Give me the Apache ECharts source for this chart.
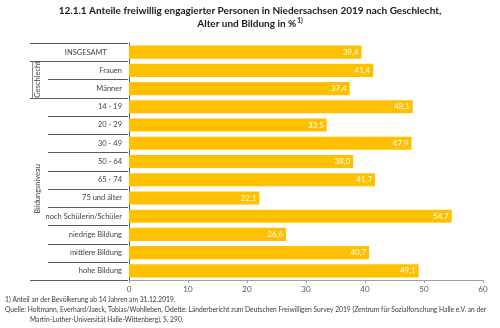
<!DOCTYPE html>
<html>
<head>
<meta charset="utf-8">
<script src="https://cdn.jsdelivr.net/npm/echarts@6/dist/echarts.min.js"></script>
<style>
  html, body { margin: 0; padding: 0; background: #fff; }
  #chart { width: 500px; height: 328px; }
</style>
</head>
<body>
<div id="chart"></div>
<script>
// Kategorien (von oben nach unten) und Anteile in %
const categories = [
  'INSGESAMT', 'Frauen', 'Männer',
  '14 - 19', '20 - 29', '30 - 49', '50 - 64', '65 - 74', '75 und älter',
  'noch Schülerin/Schüler', 'niedrige Bildung', 'mittlere Bildung', 'hohe Bildung'
];
const values = [39.4, 41.4, 37.4, 48.1, 33.5, 47.9, 38.0, 41.7, 22.1, 54.7, 26.6, 40.7, 49.1];
const xTicks = [0, 10, 20, 30, 40, 50, 60];

// Gruppen der Tabellenspalte links: [erste Zeile, letzte Zeile, Beschriftung]
const groups = [
  [1, 2, 'Geschlecht'],
  [3, 12, 'Bildungsniveau']
];

const FONT = 'Lato, "Noto Sans", sans-serif';
const chart = echarts.init(document.getElementById('chart'), null, { renderer: 'canvas' });

const option = {
  animation: false,
  backgroundColor: '#fff',
  textStyle: { fontFamily: FONT },
  grid: { left: 129, right: 17, top: 43, bottom: 48, containLabel: false },
  xAxis: {
    type: 'value',
    min: 0,
    max: 60,
    interval: 10,
    axisLine: { show: true, lineStyle: { color: '#a0a0a0', width: 1 } },
    axisTick: { show: true, length: 3, lineStyle: { color: '#a0a0a0' } },
    splitLine: { show: false },
    axisLabel: {
      color: '#555',
      fontSize: 8,
      fontFamily: FONT,
      margin: 5,
      formatter: v => xTicks.includes(v) ? String(v) : ''
    }
  },
  yAxis: {
    type: 'category',
    data: categories,
    inverse: true,
    axisLine: { show: true, lineStyle: { color: '#5a5a5a', width: 1 } },
    axisTick: { show: false },
    axisLabel: {
      color: '#444',
      fontSize: 7.5,
      fontFamily: FONT,
      margin: 7,
      // Gesamtzeile steht mittig in der Tabellenspalte
      formatter: (v, i) => i === 0 ? '{total|' + v + '}' : v,
      rich: {
        total: { color: '#444', fontSize: 7.5, fontFamily: FONT, padding: [0, 15, 0, 0] }
      }
    }
  },
  series: [{
    type: 'bar',
    data: values,
    barCategoryGap: '28%',
    itemStyle: { color: '#FFC000' },
    label: {
      show: true,
      position: 'insideRight',
      distance: 3,
      color: '#fff',
      fontSize: 8,
      fontFamily: FONT,
      formatter: p => p.value.toFixed(1).replace('.', ',')
    }
  }],
  graphic: []
};

chart.setOption(option);

// Tabellenlinien, Gruppenbeschriftungen, Titel und Fußnoten
function buildDecorations() {
  const y0 = chart.convertToPixel({ yAxisIndex: 0 }, categories[0]);
  const y1 = chart.convertToPixel({ yAxisIndex: 0 }, categories[1]);
  const rowH = y1 - y0;
  const top = y0 - rowH / 2;
  const axisX = chart.convertToPixel({ xAxisIndex: 0 }, 0) - 1;
  const outerX = 30, innerX = 48, groupX = 32;
  const lineStyle = { stroke: '#5a5a5a', lineWidth: 1 };
  const els = [];
  const groupStarts = groups.map(g => g[0]);
  for (let i = 0; i <= categories.length; i++) {
    const y = Math.round(top + i * rowH) + 0.5;
    const full = i === 0 || i === categories.length || groupStarts.includes(i);
    els.push({
      type: 'line',
      shape: { x1: full ? outerX : innerX, y1: y, x2: axisX, y2: y },
      style: lineStyle,
      silent: true
    });
  }
  groups.forEach(([a, b, name], gi) => {
    const ya = top + a * rowH;
    const yb = top + (b + 1) * rowH;
    if (gi === 0) {
      els.push({
        type: 'line',
        shape: { x1: groupX + 0.5, y1: Math.round(ya) + 0.5, x2: groupX + 0.5, y2: Math.round(yb) + 0.5 },
        style: { stroke: '#8a8a8a', lineWidth: 1 },
        silent: true
      });
    }
    els.push({
      type: 'text',
      x: 38,
      y: (ya + yb) / 2,
      rotation: Math.PI / 2,
      style: {
        text: name,
        fill: '#444',
        fontSize: 7.5,
        fontFamily: FONT,
        align: 'center',
        verticalAlign: 'middle'
      },
      silent: true
    });
  });

  // Titel (zweizeilig, zentriert)
  const titleStyle = { fill: '#1a1a1a', fontSize: 10, fontWeight: 'bold', fontFamily: FONT, verticalAlign: 'middle' };
  els.push({ type: 'text', x: 250, y: 11, style: Object.assign({ text: '12.1.1 Anteile freiwillig engagierter Personen in Niedersachsen 2019 nach Geschlecht,', align: 'center' }, titleStyle), silent: true });
  els.push({
    type: 'text', x: 250, y: 24,
    style: {
      text: '{t|Alter und Bildung in %}{s|1)}',
      align: 'center',
      verticalAlign: 'middle',
      fontFamily: FONT,
      rich: {
        t: { fill: '#1a1a1a', fontSize: 10, fontWeight: 'bold', fontFamily: FONT, lineHeight: 13 },
        s: { fill: '#1a1a1a', fontSize: 6.5, fontWeight: 'bold', fontFamily: FONT, lineHeight: 13, verticalAlign: 'top', padding: [0, 0, 5, 1] }
      }
    },
    silent: true
  });

  // Fußnote und Quelle
  const note = { fill: '#3a3a3a', fontSize: 6.7, fontFamily: FONT, verticalAlign: 'middle' };
  els.push({ type: 'text', x: 5, y: 300, style: Object.assign({ text: '1) Anteil an der Bevölkerung ab 14 Jahren am 31.12.2019.' }, note), silent: true });
  els.push({ type: 'text', x: 5, y: 310, style: Object.assign({ text: 'Quelle: Holtmann, Everhard/Jaeck, Tobias/Wohlleben, Odette: Länderbericht zum Deutschen Freiwilligen Survey 2019 (Zentrum für Sozialforschung Halle e.V. an der' }, note), silent: true });
  els.push({ type: 'text', x: 30, y: 320, style: Object.assign({ text: 'Martin-Luther-Universität Halle-Wittenberg), S. 290.' }, note), silent: true });

  chart.setOption({ graphic: els });
}
buildDecorations();
</script>
</body>
</html>
